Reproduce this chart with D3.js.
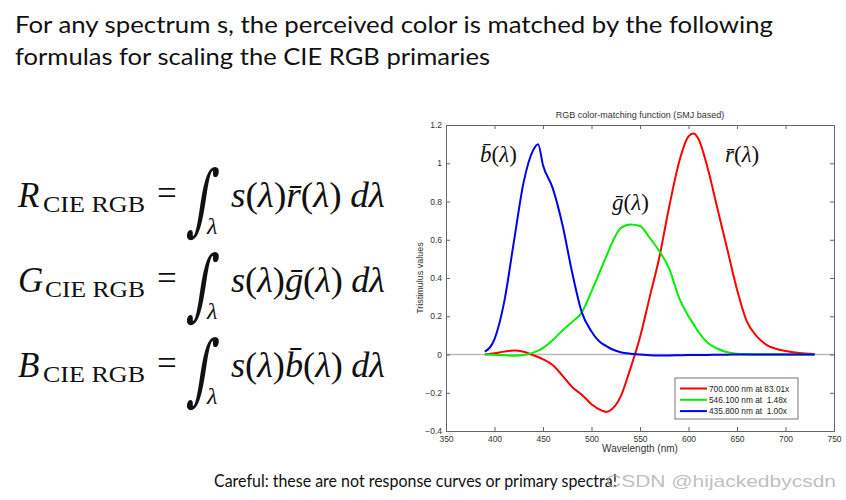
<!DOCTYPE html>
<html><head><meta charset="utf-8">
<script src="https://cdn.jsdelivr.net/npm/d3@7"></script>
<style>
html,body{margin:0;padding:0;background:#fff;}
svg{display:block;}
</style></head>
<body>
<svg id="c" width="846" height="500"></svg>
<script>
// ---- data ----
const wavelengths = [390,400,410,420,430,440,445,450,460,470,480,490,500,510,515,520,530,540,550,560,570,580,590,600,605,610,620,630,640,650,660,670,680,690,700,710,720,730];
const rBar = [0.0,0.006,0.015,0.021,0.014,-0.004,-0.013,-0.025,-0.055,-0.11,-0.17,-0.21,-0.26,-0.292,-0.30,-0.29,-0.22,-0.075,0.09,0.30,0.51,0.77,1.00,1.14,1.155,1.13,0.97,0.76,0.55,0.34,0.175,0.097,0.052,0.03,0.018,0.01,0.005,0.002];
const gBar = [0.0,-0.001,-0.004,-0.007,-0.003,0.01,0.02,0.035,0.075,0.125,0.17,0.22,0.33,0.45,0.51,0.57,0.66,0.68,0.672,0.61,0.54,0.45,0.30,0.20,0.16,0.12,0.06,0.03,0.012,0.004,0.001,0.0,0.0,0.0,0.0,0.0,0.0,0.0];
const bBar = [0.015,0.08,0.275,0.59,0.90,1.07,1.10,0.99,0.87,0.68,0.43,0.22,0.12,0.06,0.045,0.03,0.012,0.004,0.0,-0.004,-0.005,-0.005,-0.004,-0.003,-0.003,-0.002,-0.002,-0.001,-0.001,0.0,0.0,0.0,0.0,0.0,0.0,0.0,0.0,0.0];
const seriesNames = ["700.000 nm at 83.01x","546.100 nm at  1.48x","435.800 nm at  1.00x"];
const seriesColors = ["#ff0000","#00ee00","#0000ee"];
const xTicks = [350,400,450,500,550,600,650,700,750];
const yTicks = [-0.4,-0.2,0,0.2,0.4,0.6,0.8,1,1.2];
const headingLines = ["For any spectrum s, the perceived color is matched by the following","formulas for scaling the CIE RGB primaries"];
const formulaLetters = ["R","G","B"];
const formulaBars = ["r\u0304","g\u0304","b\u0304"];
const footer = "Careful: these are not response curves or primary spectra!";
const watermark = "CSDN @hijackedbycsdn";

const svg = d3.select("#c");
svg.append("rect").attr("width",846).attr("height",500).attr("fill","#fff");

// heading
const headLens = [758,475];
svg.selectAll("text.head").data(headingLines).enter().append("text")
  .attr("x",15).attr("y",(d,i)=>33+i*32)
  .attr("font-family","Lato, 'Open Sans', sans-serif").attr("font-size",24)
  .attr("textLength",(d,i)=>headLens[i]).attr("lengthAdjust","spacingAndGlyphs")
  .attr("fill","#111").text(d=>d);

// formulas
const serif = "'Liberation Serif', 'DejaVu Serif', serif";
formulaLetters.forEach((L,i)=>{
  const b = 207 + i*85;
  const g = svg.append("g");
  g.append("text").attr("x",18).attr("y",b).attr("font-family",serif).attr("font-style","italic")
    .attr("font-size",35).attr("fill","#111").text(L);
  g.append("text").attr("x",i===1?45:43).attr("y",b+5).attr("font-family",serif).attr("fill","#111")
    .attr("font-size",23).attr("textLength",i===1?100:102).attr("lengthAdjust","spacingAndGlyphs").text("CIE RGB");
  g.append("text").attr("x",157).attr("y",b-2).attr("font-family",serif).attr("fill","#111")
    .attr("font-size",35).text("=");
  g.append("text").attr("x",0).attr("y",0).attr("font-family","'DejaVu Serif', serif").attr("fill","#111")
    .attr("font-size",52).attr("transform",`translate(187,${b+19}) scale(0.95,1.5) skewX(-12)`).text("\u222B");
  g.append("text").attr("x",207).attr("y",b+27).attr("font-family",serif).attr("font-style","italic")
    .attr("font-size",24).attr("fill","#111").text("\u03BB");
  const t = g.append("text").attr("x",231).attr("y",b).attr("font-family",serif).attr("font-size",35)
    .attr("fill","#111").attr("textLength",154).attr("lengthAdjust","spacingAndGlyphs");
  t.append("tspan").attr("font-style","italic").text("s");
  t.append("tspan").text("(");
  t.append("tspan").attr("font-style","italic").text("\u03BB");
  t.append("tspan").text(")");
  t.append("tspan").attr("font-style","italic").text(formulaBars[i]);
  t.append("tspan").text("(");
  t.append("tspan").attr("font-style","italic").text("\u03BB");
  t.append("tspan").text(")");
  t.append("tspan").attr("font-style","italic").attr("dx",8).text("d\u03BB");
});

// chart
const X0=446, X1=834, Y0=125, Y1=431;
const x = d3.scaleLinear().domain([350,750]).range([X0,X1]);
const y = d3.scaleLinear().domain([-0.4,1.2]).range([Y1,Y0]);
const axisCol = "#666";
const lf = "'Liberation Sans', Arial, sans-serif";

svg.append("text").attr("x",(X0+X1)/2).attr("y",118).attr("text-anchor","middle")
  .attr("font-family",lf).attr("font-size",9).attr("fill","#333").text("RGB color-matching function (SMJ based)");

// zero line
svg.append("line").attr("x1",X0).attr("x2",X1).attr("y1",y(0)).attr("y2",y(0))
  .attr("stroke","#b8b8b8").attr("stroke-width",1.5);

// axes
const axB = svg.append("g").attr("transform",`translate(0,${Y1})`)
  .call(d3.axisBottom(x).tickValues(xTicks).tickSizeInner(-4).tickSizeOuter(0).tickPadding(3).tickFormat(d3.format("d")));
const axT = svg.append("g").attr("transform",`translate(0,${Y0})`)
  .call(d3.axisTop(x).tickValues(xTicks).tickSizeInner(-4).tickSizeOuter(0).tickFormat(""));
const axL = svg.append("g").attr("transform",`translate(${X0},0)`)
  .call(d3.axisLeft(y).tickValues(yTicks).tickSizeInner(-4).tickSizeOuter(0).tickPadding(4).tickFormat(d=>d3.format("")(+d.toFixed(1))));
const axR = svg.append("g").attr("transform",`translate(${X1},0)`)
  .call(d3.axisRight(y).tickValues(yTicks).tickSizeInner(-4).tickSizeOuter(0).tickFormat(""));
[axB,axT,axL,axR].forEach(a=>{
  a.select(".domain").attr("stroke",axisCol);
  a.selectAll(".tick line").attr("stroke",axisCol);
  a.selectAll("text").attr("font-family",lf).attr("font-size",8.5).attr("fill","#333");
});
axB.selectAll("text").attr("dy","0.9em");

svg.append("text").attr("x",(X0+X1)/2).attr("y",452).attr("text-anchor","middle")
  .attr("font-family",lf).attr("font-size",10).attr("fill","#333").text("Wavelength (nm)");
svg.append("text").attr("transform",`translate(423,${(Y0+Y1)/2}) rotate(-90)`).attr("text-anchor","middle")
  .attr("font-family",lf).attr("font-size",9).attr("fill","#333").text("Tristimulus values");

// curves
const line = d3.line().x((d,i)=>x(wavelengths[i])).y(d=>y(d)).curve(d3.curveMonotoneX);
[rBar,gBar,bBar].forEach((s,k)=>{
  svg.append("path").attr("d",line(s)).attr("fill","none").attr("stroke",seriesColors[k])
    .attr("stroke-width",2).attr("stroke-linejoin","round");
});

// curve labels
const labels = [["b\u0304",480,162],["g\u0304",612,210],["r\u0304",725,162]];
labels.forEach(([c,lx,ly])=>{
  const t = svg.append("text").attr("x",lx).attr("y",ly).attr("font-family",serif).attr("font-size",23).attr("fill","#111");
  t.append("tspan").attr("font-style","italic").text(c);
  t.append("tspan").text("(");
  t.append("tspan").attr("font-style","italic").text("\u03BB");
  t.append("tspan").text(")");
});

// legend
const lg = svg.append("g");
lg.append("rect").attr("x",675).attr("y",378).attr("width",123).attr("height",41)
  .attr("fill","#fff").attr("stroke","#555").attr("stroke-width",0.8);
seriesNames.forEach((n,i)=>{
  const ly = 388.5 + i*11.3;
  lg.append("line").attr("x1",680).attr("x2",707).attr("y1",ly).attr("y2",ly)
    .attr("stroke",seriesColors[i]).attr("stroke-width",2);
  lg.append("text").attr("x",709).attr("y",ly+3).attr("font-family",lf).attr("font-size",8.3)
    .attr("fill","#222").attr("xml:space","preserve").style("white-space","pre").text(n);
});

// footer
svg.append("text").attr("x",214).attr("y",487).attr("font-family","Lato, 'Open Sans', sans-serif")
  .attr("font-size",16.5).attr("textLength",403).attr("lengthAdjust","spacingAndGlyphs")
  .attr("fill","#111").text(footer);
svg.append("text").attr("x",606).attr("y",487).attr("font-family","'Liberation Sans', Arial, sans-serif")
  .attr("font-size",17).attr("textLength",230).attr("lengthAdjust","spacingAndGlyphs")
  .attr("fill","#aaa").attr("fill-opacity",0.75).text(watermark);
</script>
</body></html>
